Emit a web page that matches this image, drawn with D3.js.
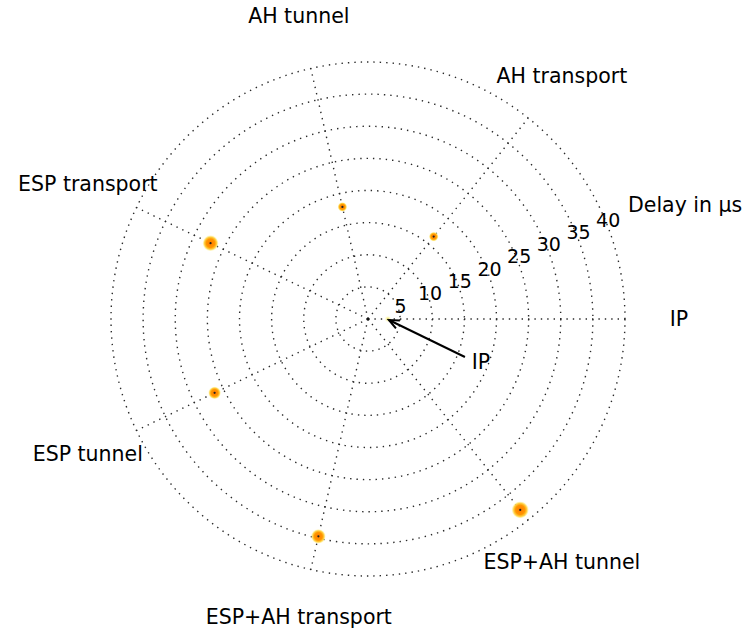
<!DOCTYPE html>
<html>
<head>
<meta charset="utf-8">
<script src="https://cdn.jsdelivr.net/npm/d3@7"></script>
<style>
  html, body { margin: 0; padding: 0; background: #fff; }
  svg { display: block; font-family: "DejaVu Sans", sans-serif; }
</style>
</head>
<body>
<svg id="chart" width="753" height="631"></svg>
<script>
// ---- data ----
const categories = ["IP", "AH transport", "AH tunnel", "ESP transport", "ESP tunnel", "ESP+AH transport", "ESP+AH tunnel"];
const delays     = [3.1, 16.4, 17.9, 27.2, 26.5, 34.7, 38.0];   // µs
const spread     = [0.25, 0.55, 0.55, 1.05, 0.8, 0.95, 1.15];  // µs (marker size)
const radialTicks = [5, 10, 15, 20, 25, 30, 35, 40];
const radialTitle = "Delay in µs";
const annotationText = "IP";

// ---- layout ----
const W = 753, H = 631;
const cx = 368, cy = 319, R = 257;
const svg = d3.select("#chart");

const r = d3.scaleLinear().domain([0, 40]).range([0, R]);
const theta = d3.scaleLinear().domain([0, categories.length]).range([0, 2 * Math.PI]);
const sizeScale = d3.scaleLinear().domain([0, 1]).range([0, 6.3]);

const px = (a, rad) => cx + rad * Math.cos(a);
const py = (a, rad) => cy - rad * Math.sin(a);

const grid = svg.append("g")
  .attr("fill", "none")
  .attr("stroke", "#2a2a2a")
  .attr("stroke-width", 1.4)
  .attr("stroke-dasharray", "1.4,5")
  .attr("stroke-linecap", "butt");

// circles
grid.selectAll("circle").data(radialTicks).join("circle")
  .attr("cx", cx).attr("cy", cy).attr("r", d => r(d));

// spokes
grid.selectAll("line").data(categories).join("line")
  .attr("x1", cx).attr("y1", cy)
  .attr("x2", (d, i) => px(theta(i), R))
  .attr("y2", (d, i) => py(theta(i), R));

// radial tick labels at 22.5°
const tickAngle = 22.5 * Math.PI / 180;
svg.append("g").selectAll("text").data(radialTicks).join("text")
  .attr("x", d => px(tickAngle, r(d) + 3))
  .attr("y", d => py(tickAngle, r(d) + 3))
  .attr("text-anchor", "middle")
  .attr("dominant-baseline", "central")
  .attr("font-size", 19)
  .attr("fill", "#000")
  .text(d => d);

svg.append("text")
  .attr("x", cx + R + 3)
  .attr("y", cy - 114)
  .attr("dominant-baseline", "central")
  .attr("font-size", 20.5)
  .text(radialTitle);

// category labels
svg.append("g").selectAll("text").data(categories).join("text")
  .attr("x", (d, i) => px(theta(i), R * 1.21))
  .attr("y", (d, i) => Math.min(py(theta(i), R * 1.21), H - 14))
  .attr("text-anchor", "middle")
  .attr("dominant-baseline", "central")
  .attr("font-size", 20.5)
  .text(d => d);

// marker gradient
const defs = svg.append("defs");
const grad = defs.append("radialGradient").attr("id", "glow");
grad.append("stop").attr("offset", "0%").attr("stop-color", "#ff7a00");
grad.append("stop").attr("offset", "55%").attr("stop-color", "#ff9500");
grad.append("stop").attr("offset", "78%").attr("stop-color", "#ffcf40");
grad.append("stop").attr("offset", "100%").attr("stop-color", "#fff5a0").attr("stop-opacity", 0.35);

const gradIP = defs.append("radialGradient").attr("id", "glowIP");
gradIP.append("stop").attr("offset", "0%").attr("stop-color", "#f4e96a");
gradIP.append("stop").attr("offset", "100%").attr("stop-color", "#fff7b0").attr("stop-opacity", 0.4);

const pts = categories.map((c, i) => ({
  c, x: px(theta(i), r(delays[i])), y: py(theta(i), r(delays[i])), s: spread[i]
}));

const mg = svg.append("g");
mg.selectAll("circle.m").data(pts).join("circle")
  .attr("class", "m")
  .attr("cx", d => d.x).attr("cy", d => d.y)
  .attr("r", d => sizeScale(d.s) + 1.2)
  .attr("fill", (d, i) => i === 0 ? "url(#glowIP)" : "url(#glow)");
mg.selectAll("circle.c").data(pts.slice(1)).join("circle")
  .attr("class", "c")
  .attr("cx", d => d.x).attr("cy", d => d.y)
  .attr("r", 1.1)
  .attr("fill", "#222");

// center dot
svg.append("circle").attr("cx", cx).attr("cy", cy).attr("r", 1.6).attr("fill", "#111");

// annotation arrow for IP
const ip = pts[0];
const ax0 = ip.x + 77, ay0 = ip.y + 38;
const ang = Math.atan2(ip.y - ay0, ip.x - ax0);
const hl = 11, hw = 0.42;
const ann = svg.append("g").attr("stroke", "#000").attr("stroke-width", 2).attr("fill", "none");
ann.append("line").attr("x1", ax0).attr("y1", ay0).attr("x2", ip.x + 1).attr("y2", ip.y + 1);
ann.append("path").attr("d", d3.line()([
  [ip.x + 1 - hl * Math.cos(ang - hw), ip.y + 1 - hl * Math.sin(ang - hw)],
  [ip.x + 1, ip.y + 1],
  [ip.x + 1 - hl * Math.cos(ang + hw), ip.y + 1 - hl * Math.sin(ang + hw)]
]));
svg.append("text")
  .attr("x", ip.x + 93).attr("y", ip.y + 43)
  .attr("text-anchor", "middle")
  .attr("dominant-baseline", "central")
  .attr("font-size", 20.5)
  .text(annotationText);
</script>
</body>
</html>
